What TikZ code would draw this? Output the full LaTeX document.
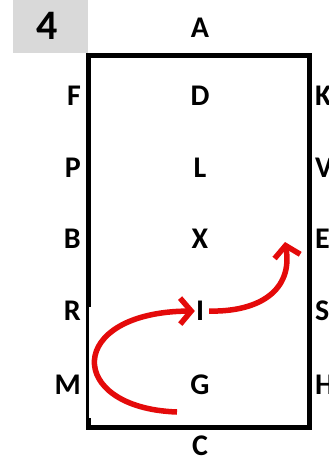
\documentclass[tikz,border=0pt]{standalone}
\usepackage{fontspec}
\setmainfont{Carlito}
\usepackage{tikz}
\usetikzlibrary{arrows.meta}
\definecolor{box_gray}{RGB}{217,217,217}
\definecolor{arrow_red}{RGB}{228,10,10}

\tikzset{
    letter/.style={font=\bfseries\fontsize{30}{32}\selectfont, inner sep=1pt},
    turn/.style={arrow_red, line width=5.5pt, -{Straight Barb[length=11pt,width=26pt]}}
}

\begin{document}
\begin{tikzpicture}[x=1pt,y=-1pt]
    \useasboundingbox (0,0) rectangle (329,463);
    % Number box
    \fill[box_gray] (13,0) rectangle (88,53);
    \node[font=\bfseries\fontsize{42}{44}\selectfont] (num) at (47,26) {4};
    % Frame
    \draw[line width=5pt] (88.5,55) rectangle (309.5,427.5);
    \fill[white] (88.6,307) rectangle (178,418);
    % Middle column
    \node[letter] (A) at (200,28) {A};
    \node[letter] (D) at (200,96) {D};
    \node[letter] (L) at (200,168) {L};
    \node[letter] (X) at (200,239) {X};
    \node[letter] (I) at (200,311) {I};
    \node[letter] (G) at (200,385) {G};
    \node[letter] (C) at (200,446) {C};
    % Left column
    \node[letter, anchor=east] (F) at (82,96) {F};
    \node[letter, anchor=east] (P) at (82,168) {P};
    \node[letter, anchor=east] (B) at (82,239) {B};
    \node[letter, anchor=east] (R) at (82,311) {R};
    \node[letter, anchor=east] (M) at (82,385) {M};
    % Right column
    \node[letter, anchor=west] (K) at (314,96) {K};
    \node[letter, anchor=west] (V) at (314,168) {V};
    \node[letter, anchor=west] (E) at (314,239) {E};
    \node[letter, anchor=west] (S) at (314,311) {S};
    \node[letter, anchor=west] (H) at (314,385) {H};
    % Turns
    \coordinate (gstart) at (177,412);
    \coordinate (etip) at (285,242);
    \draw[turn] (gstart) .. controls (65,408) and (65,312) .. (I.west);
    \draw[turn, shorten <=4pt] (I.east) .. controls (260,312) and (293,290) .. (etip);
\end{tikzpicture}
\end{document}
